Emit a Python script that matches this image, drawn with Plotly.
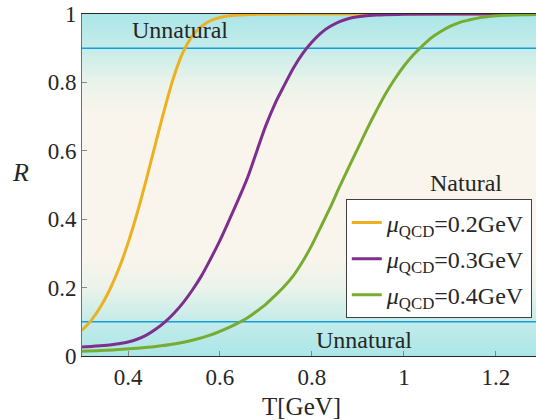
import numpy as np
import plotly.graph_objects as go

# ---- data ----
T_02 = [0.30, 0.32, 0.34, 0.36, 0.38, 0.40, 0.42, 0.44, 0.46, 0.48, 0.50, 0.52, 0.54, 0.56, 0.58, 0.60, 0.64, 0.68, 0.80, 1.00, 1.30]
R_02 = [0.075, 0.104, 0.143, 0.193, 0.255, 0.330, 0.418, 0.517, 0.622, 0.725, 0.818, 0.889, 0.936, 0.964, 0.981, 0.990, 0.997, 0.999, 1.000, 1.000, 1.000]

T_03 = [0.30, 0.32, 0.34, 0.36, 0.38, 0.40, 0.42, 0.44, 0.46, 0.48, 0.50, 0.52, 0.54, 0.56, 0.58, 0.60, 0.62, 0.64, 0.66, 0.68, 0.70,
        0.72, 0.74, 0.76, 0.78, 0.80, 0.82, 0.84, 0.86, 0.88, 0.90, 0.94, 1.00, 1.10, 1.30]
R_03 = [0.026, 0.028, 0.030, 0.032, 0.036, 0.041, 0.049, 0.061, 0.078, 0.099, 0.125, 0.156, 0.193, 0.235, 0.285, 0.338, 0.397, 0.458, 0.522, 0.599, 0.675,
        0.739, 0.792, 0.843, 0.885, 0.918, 0.945, 0.964, 0.978, 0.987, 0.992, 0.997, 0.999, 1.000, 1.000]

T_04 = [0.30, 0.34, 0.38, 0.42, 0.46, 0.50, 0.54, 0.58, 0.62, 0.64, 0.66, 0.68, 0.70, 0.72, 0.74, 0.76, 0.78, 0.80, 0.82, 0.84, 0.86,
        0.88, 0.90, 0.92, 0.94, 0.96, 0.98, 1.00, 1.02, 1.04, 1.06, 1.08, 1.10, 1.12, 1.14, 1.16, 1.18, 1.22, 1.26, 1.30]
R_04 = [0.014, 0.016, 0.019, 0.023, 0.028, 0.035, 0.046, 0.062, 0.084, 0.097, 0.112, 0.131, 0.152, 0.177, 0.204, 0.236, 0.277, 0.325, 0.380, 0.435, 0.495,
        0.552, 0.608, 0.664, 0.717, 0.767, 0.810, 0.848, 0.880, 0.907, 0.931, 0.949, 0.964, 0.975, 0.982, 0.988, 0.992, 0.996, 0.998, 0.999]

series_names = ["<i>μ</i><sub>QCD</sub>=0.2GeV", "<i>μ</i><sub>QCD</sub>=0.3GeV", "<i>μ</i><sub>QCD</sub>=0.4GeV"]
series_T = [T_02, T_03, T_04]
series_R = [R_02, R_03, R_04]
colors = ["#EDB120", "#7E2F8E", "#77AC30"]

thresholds = [0.1, 0.9]
x_ticks = [0.4, 0.6, 0.8, 1.0, 1.2]
x_ticklabels = ["0.4", "0.6", "0.8", "1", "1.2"]
y_ticks = [0, 0.2, 0.4, 0.6, 0.8, 1.0]
y_ticklabels = ["0", "0.2", "0.4", "0.6", "0.8", "1"]

SERIF = "Liberation Serif"
TXT = "#262626"

fig = go.Figure()

# background gradient (cyan near 0 and 1, cream in middle)
yy = np.linspace(0, 1, 201)
fig.add_trace(go.Heatmap(
    x=[0.29, 1.31], y=yy, z=[[v, v] for v in yy],
    colorscale=[[0.0, "#abe6e8"], [0.1, "#c3ebe9"], [0.2, "#eaf3ea"], [0.3, "#faf5ec"],
                [0.7, "#faf5ec"], [0.8, "#eaf3ea"], [0.9, "#c6ece9"], [1.0, "#abe6e8"]],
    zmin=0, zmax=1, showscale=False, hoverinfo="skip", zsmooth="best"))

for th in thresholds:
    fig.add_trace(go.Scatter(x=[0.29, 1.31], y=[th, th], mode="lines",
                             line=dict(color="#12a0d6", width=1.5),
                             showlegend=False, hoverinfo="skip"))

for i, (name, T, R, c) in enumerate(zip(series_names, series_T, series_R, colors)):
    fig.add_trace(go.Scatter(x=T, y=R, mode="lines", name=name, legendgroup=f"g{i}",
                             line=dict(color=c, width=3, shape="spline", smoothing=1.0)))

fig.update_layout(
    width=536, height=420,
    margin=dict(l=82, r=0, t=14, b=64),
    paper_bgcolor="white", plot_bgcolor="white",
    font=dict(family=SERIF, size=22, color=TXT),
    showlegend=True,
    legend=dict(x=0.581, y=0.458, xanchor="left", yanchor="top",
                bgcolor="white", bordercolor="#404040", borderwidth=1,
                font=dict(family=SERIF, size=24, color=TXT),
                tracegroupgap=2, itemwidth=30),
    xaxis=dict(range=[0.3, 1.287], tickvals=x_ticks, ticktext=x_ticklabels,
               ticks="inside", ticklen=5, tickcolor="#888", showgrid=False, zeroline=False,
               showline=True, linecolor="#262626", linewidth=1.2, mirror=True,
               tickfont=dict(family=SERIF, size=23, color=TXT)),
    yaxis=dict(range=[0, 1], tickvals=y_ticks, ticktext=y_ticklabels,
               ticks="inside", ticklen=5, tickcolor="#888", showgrid=False, zeroline=False,
               showline=True, linecolor="#707070", linewidth=1,
               tickfont=dict(family=SERIF, size=23, color=TXT)),
)

# annotations placed by pixel position, converted to paper coords
W, H = 536, 420
l, r, t, b = 82, 0, 14, 64
pw, ph = W - l - r, H - t - b
labels = [
    ("<i>R</i>", 20, 172, 26),
    ("T[GeV]", 301, 406, 25),
    ("Unnatural", 180, 30, 24),
    ("Unnatural", 364, 340, 24),
    ("Natural", 466, 183, 24),
]
for text, px, py, fs in labels:
    fig.add_annotation(text=text, xref="paper", yref="paper",
                       x=(px - l) / pw, y=(H - b - py) / ph,
                       xanchor="center", yanchor="middle", showarrow=False,
                       font=dict(family=SERIF, size=fs, color=TXT))

fig.write_html("out.html")
